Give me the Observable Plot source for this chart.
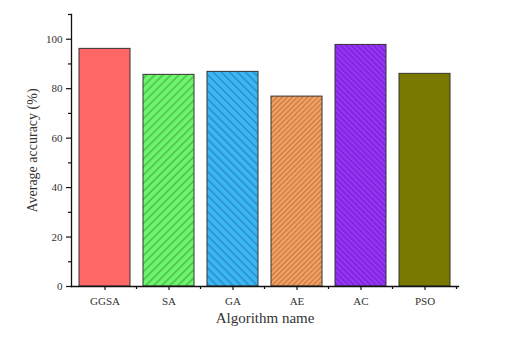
<!DOCTYPE html>
<html>
<head>
<meta charset="utf-8">
<script src="https://cdn.jsdelivr.net/npm/d3@7"></script>
<script src="https://cdn.jsdelivr.net/npm/@observablehq/plot@0.6"></script>
<style>
  html, body { margin: 0; padding: 0; background: #fff; }
</style>
</head>
<body>
<div id="chart"></div>
<script>
const categories = ["GGSA", "SA", "GA", "AE", "AC", "PSO"];
const values = [96.1, 85.6, 86.8, 76.8, 97.7, 86.0];
const majorTicks = [0, 20, 40, 60, 80, 100];
const minorTicks = [10, 30, 50, 70, 90, 110];

// styles (kept separate from data)
const baseColors = ["#FF6666", "#6CF66C", "#3BB6F6", "#F9A262", "#9933FF", "#808000"];
const hatchAngle = [null, 45, -45, 45, -45, 0];
const hatchGap = [0, 5.7, 5.7, 3.6, 3.9, 2];
const hatchColor = [null, "#1f4a1f", "#163e5c", "#6a4020", "#3a1066", "#5a5a00"];

const data = categories.map((name, i) => ({ name, value: values[i], pattern: `url(#pat${i})` }));

const plot = Plot.plot({
  width: 512,
  height: 342,
  marginLeft: 71,
  marginRight: 54,
  marginTop: 14,
  marginBottom: 56,
  style: { fontFamily: "'Liberation Serif', serif", fontSize: "11px", background: "#fff", color: "#333" },
  x: { domain: categories, paddingInner: 0.21, paddingOuter: 0.108, label: null },
  y: { domain: [0, 110], label: null },
  color: { type: "identity" },
  marks: [
    Plot.barY(data, { x: "name", y: "value", fill: "pattern", stroke: "#333", strokeWidth: 1 }),
    Plot.axisY({ ticks: majorTicks, tickSize: 5, tickPadding: 4, label: null, stroke: "#111", strokeWidth: 1.2, fontSize: 11 }),
    Plot.axisY({ ticks: minorTicks, tickSize: 3, text: null, label: null, stroke: "#111", strokeWidth: 1.2 }),
    Plot.axisX({ tickSize: 4, tickPadding: 7, label: null, stroke: "#111", strokeWidth: 1.2, fontSize: 11 }),
    Plot.frame({ anchor: "left", stroke: "#111", strokeWidth: 1.3 }),
    Plot.frame({ anchor: "bottom", stroke: "#111", strokeWidth: 1.3 }),
    Plot.text(["Average accuracy (%)"], { frameAnchor: "left", textAnchor: "middle", rotate: -90, dx: -39, fontSize: 14, fill: "#333", style: "letter-spacing:0.8px" }),
    Plot.text(["Algorithm name"], { frameAnchor: "bottom", dy: 36, fontSize: 15, fill: "#333", style: "letter-spacing:1.2px" })
  ]
});

const svg = d3.select(plot);
const defs = svg.insert("defs", ":first-child");
baseColors.forEach((c, i) => {
  if (hatchAngle[i] === null) {
    const p = defs.append("pattern").attr("id", `pat${i}`).attr("patternUnits", "userSpaceOnUse")
      .attr("width", 10).attr("height", 10);
    p.append("rect").attr("width", 10).attr("height", 10).attr("fill", c);
    return;
  }
  const g = hatchGap[i];
  const p = defs.append("pattern").attr("id", `pat${i}`).attr("patternUnits", "userSpaceOnUse")
    .attr("width", g).attr("height", g).attr("patternTransform", `rotate(${hatchAngle[i]})`);
  p.append("rect").attr("width", g).attr("height", g).attr("fill", c);
  p.append("line").attr("x1", g / 2).attr("x2", g / 2).attr("y1", 0).attr("y2", g)
    .attr("stroke", hatchColor[i]).attr("stroke-width", hatchAngle[i] === 0 ? 0.4 : 0.6)
    .attr("stroke-opacity", 0.9);
});

// minor x ticks at band boundaries, positioned via Plot's x scale
const xs = plot.scale("x");
const ys = plot.scale("y");
const y0 = ys.apply(0);
const gap = xs.step - xs.bandwidth;
const bounds = categories.map(c => xs.apply(c) + xs.bandwidth + gap / 2);
svg.append("g").attr("stroke", "#111").attr("stroke-width", 1.2)
  .selectAll("line").data(bounds).join("line")
  .attr("x1", d => d).attr("x2", d => d).attr("y1", y0).attr("y2", y0 + 3);

svg.selectAll("text").attr("font-family", "'Liberation Serif', serif");
document.getElementById("chart").appendChild(plot);
</script>
</body>
</html>
